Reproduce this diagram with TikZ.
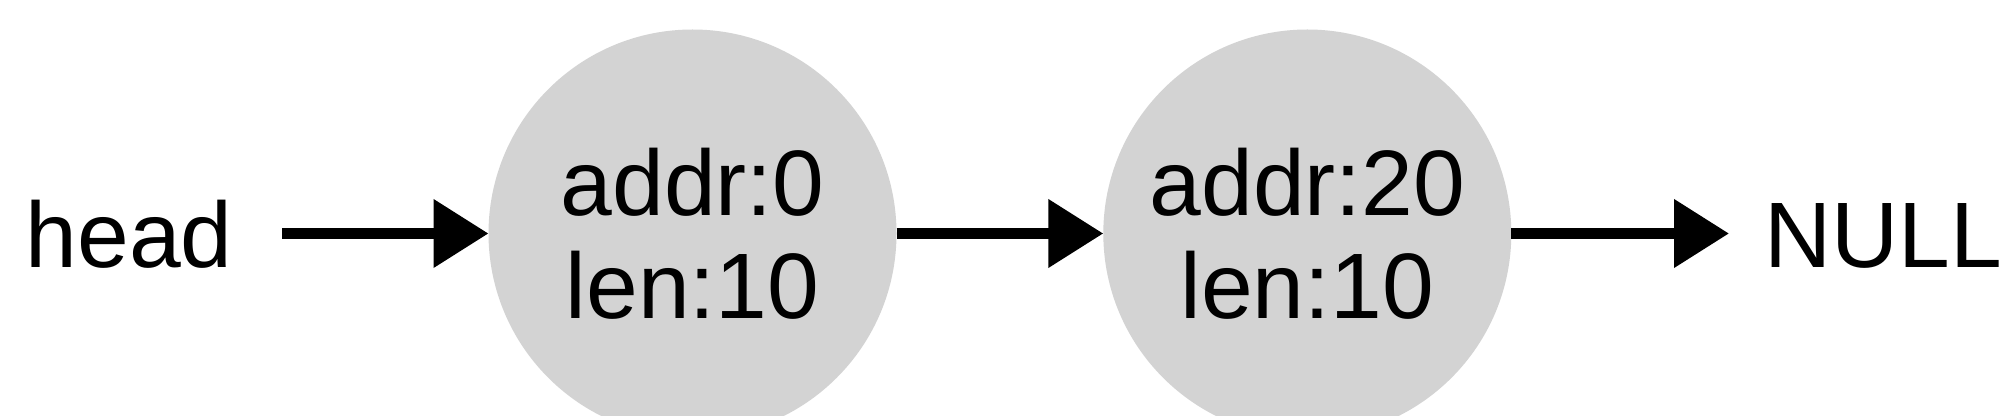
\documentclass[tikz,border=0pt]{standalone}
\usepackage{fontspec}
\setmainfont{Liberation Sans}
\usetikzlibrary{arrows.meta}
\definecolor{nodegray}{RGB}{211,211,211}
\tikzset{
  listnode/.style={circle, fill=nodegray, draw=none, minimum size=204pt, inner sep=0pt, outer sep=0pt,
    align=center, font=\fontsize{46.5pt}{51.5pt}\selectfont},
  plain/.style={inner sep=0pt, outer sep=0pt, anchor=base, font=\fontsize{46.5pt}{51.5pt}\selectfont},
  link/.style={line width=5.5pt, -{Triangle[length=27.5pt,width=33pt]}}
}
\begin{document}
\begin{tikzpicture}[x=0.5pt,y=-0.5pt]
\clip (0,0) rectangle (2000,416);
\node[listnode] (n1) at (692.5,233.5) {addr:0\\len:10};
\node[listnode] (n2) at (1307.3,233.5) {addr:20\\len:10};
\node[plain, minimum width=152.9pt] (head) at (129.1,267.3) {head};
\node[plain, minimum width=154pt] (null) at (1883,267.3) {NULL};
\draw[link] (head.east |- n1.center) -- (n1.west);
\draw[link] (n1.east) -- (n2.west);
\draw[link] (n2.east) -- (null.west |- n2.center);
\end{tikzpicture}
\end{document}
